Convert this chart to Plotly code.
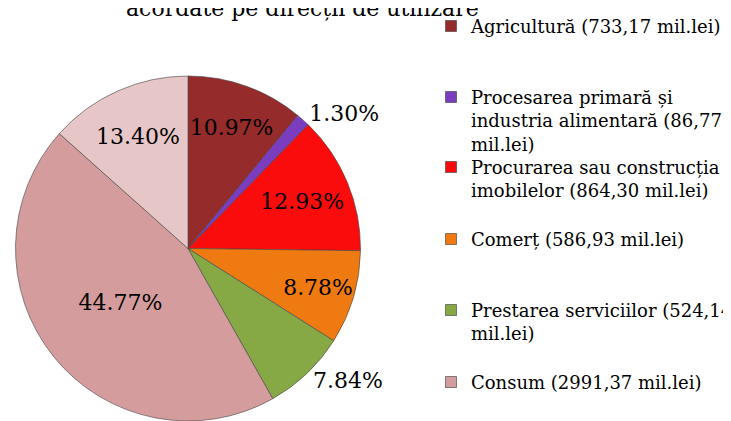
import plotly.graph_objects as go

# Data
categories = ["Agricultură", "Procesarea primară și industria alimentară",
              "Procurarea sau construcția imobilelor", "Comerț",
              "Prestarea serviciilor", "Consum", "Altele"]
shares_pct = [10.97, 1.30, 12.93, 8.78, 7.84, 44.77, 13.40]
legend_labels = [
    "Agricultură (733,17 mil.lei)",
    "Procesarea primară și<br>industria alimentară (86,77<br>mil.lei)",
    "Procurarea sau construcția<br>imobilelor (864,30 mil.lei)",
    "Comerț (586,93 mil.lei)",
    "Prestarea serviciilor (524,14<br>mil.lei)",
    "Consum (2991,37 mil.lei)",
]
colors = ["#952B2B", "#7A3DC0", "#FA0C0C", "#F07A12", "#86A845", "#D49C9C", "#E6C6C6"]
text_pos = ["inside", "outside", "inside", "inside", "outside", "inside", "inside"]
title_text = "acordate pe direcții de utilizare"

# page body adds an 8px offset; the figure is sized to the remaining viewport
OFF = 8
W, H = 731 - OFF, 421 - OFF
FONT = "DejaVu Serif"


def fx(px):  # window x pixel -> paper fraction
    return (px - OFF) / W


def fy(py):  # window y pixel (from top) -> paper fraction
    return 1 - (py - OFF) / H


fig = go.Figure()
fig.add_trace(go.Pie(
    labels=categories, values=shares_pct, sort=False, direction="clockwise",
    marker=dict(colors=colors, line=dict(color="rgba(70,70,70,0.6)", width=1)),
    text=[f"{v:.2f}%" for v in shares_pct], textinfo="text",
    textposition=text_pos, insidetextorientation="horizontal",
    textfont=dict(family=FONT, size=22, color="black"),
    insidetextfont=dict(family=FONT, size=22, color="black"),
    outsidetextfont=dict(family=FONT, size=22, color="black"),
    domain=dict(x=[fx(12), fx(364)], y=[0, fy(76)]),
    showlegend=False, hoverinfo="label+percent",
))

legend_centers = [26, 97, 167, 239, 310, 382]
layout_legends = {}
for i, lab in enumerate(legend_labels):
    key = "legend" if i == 0 else f"legend{i+1}"
    fig.add_trace(go.Scatter(
        x=[None], y=[None], mode="markers", name=lab, legend=key,
        marker=dict(symbol="square", size=11, color=colors[i],
                    line=dict(color="rgba(60,60,60,0.6)", width=1)),
    ))
    layout_legends[key] = dict(
        x=fx(431), xanchor="left", y=fy(legend_centers[i] - 18.2), yanchor="top",
        font=dict(family=FONT, size=18, color="black"), valign="top",
        bgcolor="rgba(0,0,0,0)", itemwidth=30, borderwidth=0,
    )

fig.update_layout(
    width=W, height=H, margin=dict(l=0, r=0, t=0, b=0, autoexpand=False),
    paper_bgcolor="white", plot_bgcolor="white",
    xaxis=dict(visible=False), yaxis=dict(visible=False),
    annotations=[dict(text=title_text, x=fx(302), xref="paper", xanchor="center",
                      y=1, yref="paper", yanchor="top", yshift=14, showarrow=False,
                      font=dict(family=FONT, size=22, color="black"))],
    **layout_legends,
)

fig.write_html("out.html")
